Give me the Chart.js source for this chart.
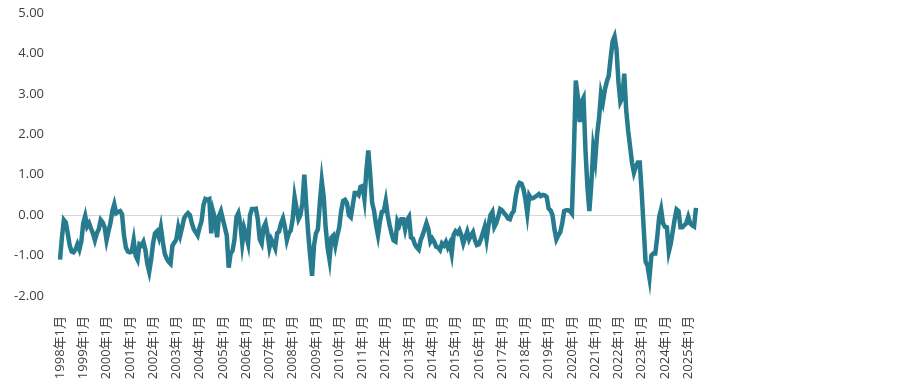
<!DOCTYPE html>
<html>
<head>
<meta charset="utf-8">
<script src="https://cdn.jsdelivr.net/npm/chart.js@4/dist/chart.umd.min.js"></script>
<style>
  html, body { margin: 0; padding: 0; background: #fff; }
  #wrap { width: 915px; height: 384px; position: relative; }
</style>
</head>
<body>
<div id="wrap"><canvas id="indexChart"></canvas></div>
<script>
// chart data: monthly, 1998年1月 .. 2025年5月
const startYear = 1998;
const lastYear = 2025;
const lastMonth = 5;

const yTicks = [-2, -1, 0, 1, 2, 3, 4, 5];

const indexValues = [
    -1.1, -0.55, -0.12, -0.18, -0.45, -0.75, -0.9, -0.92, -0.85, -0.72, -0.85, -0.65,   // 1998
    -0.2, -0.02, -0.28, -0.2, -0.33, -0.45, -0.62, -0.45, -0.35, -0.12, -0.18, -0.3,    // 1999
    -0.62, -0.4, -0.2, 0.1, 0.27, 0.05, 0.08, 0.1, 0.02, -0.5, -0.8, -0.9,              // 2000
    -0.92, -0.9, -0.62, -1.0, -1.1, -0.72, -0.75, -0.66, -0.85, -1.2, -1.4, -1.1,       // 2001
    -0.7, -0.45, -0.4, -0.55, -0.3, -0.65, -0.95, -1.07, -1.15, -1.2, -0.75, -0.68,     // 2002
    -0.6, -0.3, -0.5, -0.3, -0.08, 0.0, 0.05, 0.0, -0.2, -0.35, -0.42, -0.5,            // 2003
    -0.3, -0.15, 0.25, 0.4, 0.38, 0.4, -0.45, 0.08, -0.1, -0.55, -0.02, 0.1,            // 2004
    -0.1, -0.3, -0.5, -1.3, -0.95, -0.88, -0.6, -0.05, 0.05, -0.2, -0.7, -0.33,         // 2005
    -0.5, -0.7, 0.0, 0.15, 0.15, 0.16, -0.1, -0.6, -0.7, -0.3, -0.2, -0.45,             // 2006
    -0.8, -0.6, -0.7, -0.82, -0.45, -0.4, -0.2, -0.08, -0.3, -0.62, -0.45, -0.38,       // 2007
    -0.1, 0.45, 0.17, -0.1, 0.0, 0.3, 1.0, 0.25, -0.45, -1.0, -1.5, -0.75,              // 2008
    -0.45, -0.35, 0.3, 0.85, 0.45, -0.3, -0.8, -1.1, -0.55, -0.5, -0.75, -0.5,          // 2009
    -0.3, 0.1, 0.35, 0.38, 0.3, 0.0, -0.05, 0.25, 0.55, 0.55, 0.5, 0.7,                 // 2010
    0.72, 0.4, 1.1, 1.6, 1.0, 0.3, 0.1, -0.25, -0.5, -0.15, 0.08, 0.1,                  // 2011
    0.35, 0.0, -0.25, -0.45, -0.62, -0.65, -0.15, -0.25, -0.1, -0.1, -0.35, -0.12,      // 2012
    -0.04, -0.55, -0.58, -0.72, -0.8, -0.85, -0.62, -0.5, -0.35, -0.2, -0.35, -0.66,    // 2013
    -0.58, -0.66, -0.78, -0.8, -0.86, -0.7, -0.75, -0.66, -0.8, -0.7, -0.95, -0.49,     // 2014
    -0.4, -0.45, -0.37, -0.5, -0.7, -0.55, -0.41, -0.6, -0.5, -0.42, -0.62, -0.74,      // 2015
    -0.72, -0.6, -0.45, -0.29, -0.6, -0.25, 0.0, 0.08, -0.29, -0.2, -0.04, 0.15,        // 2016
    0.12, 0.05, 0.0, -0.08, -0.1, 0.04, 0.1, 0.45, 0.7, 0.8, 0.78, 0.65,                // 2017
    0.4, 0.04, 0.49, 0.41, 0.42, 0.45, 0.48, 0.52, 0.47, 0.5, 0.49, 0.45,               // 2018
    0.16, 0.12, 0.0, -0.35, -0.6, -0.5, -0.42, -0.2, 0.1, 0.12, 0.12, 0.1,              // 2019
    0.04, 1.5, 3.33, 2.95, 2.3, 2.8, 2.9, 1.6, 0.7, 0.1, 0.75, 1.65,                    // 2020
    1.35, 2.0, 2.4, 3.0, 2.8, 3.1, 3.3, 3.45, 3.9, 4.3, 4.42, 4.1,                      // 2021
    3.3, 2.8, 2.9, 3.5, 2.6, 2.1, 1.7, 1.3, 1.05, 1.2, 1.3, 1.3,                        // 2022
    0.55, -0.3, -1.15, -1.25, -1.55, -1.0, -0.95, -0.95, -0.55, -0.05, 0.15, -0.2,      // 2023
    -0.29, -0.3, -0.9, -0.7, -0.4, -0.1, 0.14, 0.1, -0.3, -0.3, -0.25, -0.2,            // 2024
    -0.04, -0.2, -0.25, -0.28, 0.18                                                    // 2025
];

const monthLabels = [];
for (let y = startYear; y <= lastYear; y++) {
    const months = y === lastYear ? lastMonth : 12;
    for (let m = 1; m <= months; m++) {
        monthLabels.push(y + '年' + m + '月');
    }
}

const fontFamily = '"Open Sans", "Noto Sans CJK SC", sans-serif';
const textColor = '#404040';

const ctx = document.getElementById('indexChart').getContext('2d');
new Chart(ctx, {
    type: 'line',
    data: {
        labels: monthLabels,
        datasets: [{
            data: indexValues,
            borderColor: '#267c8e',
            borderWidth: 4.5,
            pointRadius: 0,
            tension: 0,
            fill: false
        }]
    },
    options: {
        responsive: true,
        maintainAspectRatio: false,
        animation: false,
        layout: {
            padding: { top: 13, right: 219, bottom: 0, left: 0 }
        },
        plugins: {
            legend: { display: false },
            tooltip: { enabled: false }
        },
        scales: {
            x: {
                grid: { display: false },
                border: { display: false },
                afterFit: scale => { scale.height = 88; },
                ticks: {
                    autoSkip: false,
                    minRotation: 90,
                    maxRotation: 90,
                    padding: 12,
                    color: textColor,
                    font: { family: fontFamily, size: 13 },
                    callback: function (value, index) {
                        const label = monthLabels[index];
                        return label.endsWith('年1月') ? label : '';
                    }
                }
            },
            y: {
                min: yTicks[0],
                max: yTicks[yTicks.length - 1],
                afterFit: scale => {
                    scale.width = 60;
                    scale.paddingTop = 0;
                    scale.paddingBottom = 0;
                },
                afterBuildTicks: scale => {
                    scale.ticks = yTicks.map(v => ({ value: v }));
                },
                border: { display: false },
                grid: {
                    drawTicks: false,
                    color: c => (c.tick && c.tick.value === 0 ? '#d9d9d9' : 'rgba(0,0,0,0)'),
                    lineWidth: 1
                },
                ticks: {
                    padding: 16,
                    color: textColor,
                    font: { family: fontFamily, size: 13 },
                    callback: v => v.toFixed(2)
                }
            }
        }
    }
});
</script>
</body>
</html>
